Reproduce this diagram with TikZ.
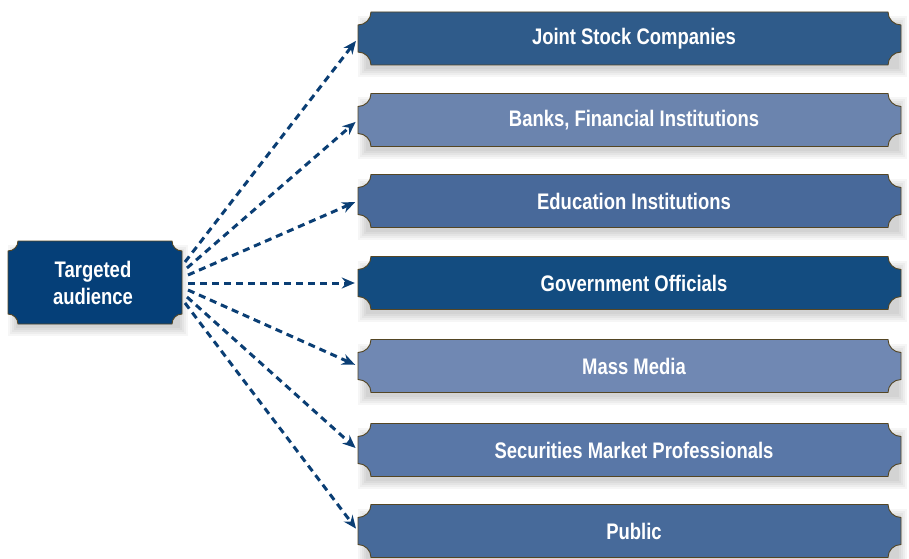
\documentclass[tikz,border=0pt]{standalone}
\usepackage{fontspec}
\setmainfont[FakeStretch=0.82]{Liberation Sans}
\usetikzlibrary{arrows.meta}
\definecolor{edgec}{RGB}{84,70,36}
\definecolor{arrowc}{RGB}{10,62,116}
\definecolor{cA}{RGB}{47,91,138}
\definecolor{cB}{RGB}{107,132,174}
\definecolor{cC}{RGB}{72,105,154}
\definecolor{cD}{RGB}{19,76,128}
\definecolor{cE}{RGB}{112,136,179}
\definecolor{cF}{RGB}{89,119,167}
\definecolor{cG}{RGB}{71,106,154}
\definecolor{cL}{RGB}{5,63,120}
\tikzset{
  lbl/.style={inner sep=0pt, text=white, font=\bfseries\fontsize{22.5}{27}\selectfont, align=center},
  conn/.style={draw=arrowc, line width=3pt, dash pattern=on 7pt off 5pt,
    -{Stealth[length=13pt,width=11pt]}, shorten >=3pt},
  shapeedge/.style={draw=edgec, line width=0.9pt},
  shadowfill/.style={fill=black, opacity=0.035}
}
% concave-corner box: x1,y1,x2,y2,r
\newcommand{\tktpath}[5]{(#1+#5,#2) -- (#3-#5,#2)
  arc[start angle=180,end angle=90,radius=#5pt] -- (#3,#4-#5)
  arc[start angle=270,end angle=180,radius=#5pt] -- (#1+#5,#4)
  arc[start angle=0,end angle=-90,radius=#5pt] -- (#1,#2+#5)
  arc[start angle=90,end angle=0,radius=#5pt] -- cycle}
\newcommand{\tktshadow}[4]{%
  \foreach \e in {0,2,4,6,8}{
    \fill[shadowfill] (#1+8-\e,#2-4-\e) rectangle (#3-2+\e,#4-12+\e);
  }}
\newcommand{\ticket}[4]{% name, ycenter, colour, text
  \tktshadow{358}{#2-26.5}{901}{#2+26.5}
  \path[fill=#3, shapeedge] \tktpath{358}{#2-26.5}{901}{#2+26.5}{13};
  \node[lbl, minimum width=552pt, minimum height=53pt] (#1) at (634,#2) {#4};
}
\begin{document}
\begin{tikzpicture}[x=1pt,y=1pt]
\useasboundingbox (0,0) rectangle (909,558);
\fill[white] (0,0) rectangle (909,558);

% left box
\tktshadow{8}{234}{182}{317}
\path[fill=cL, shapeedge] \tktpath{8}{234}{182}{317}{10};
\node[lbl, minimum width=174pt, minimum height=83pt] (src) at (93,275.5) {Targeted\\audience};

\ticket{b1}{519.5}{cA}{Joint Stock Companies}
\ticket{b2}{438}{cB}{Banks, Financial Institutions}
\ticket{b3}{357}{cC}{Education Institutions}
\ticket{b4}{275}{cD}{Government Officials}
\ticket{b5}{192}{cE}{Mass Media}
\ticket{b6}{108}{cF}{Securities Market Professionals}
\ticket{b7}{27}{cG}{Public}

\coordinate (s1) at (185,296);
\coordinate (s2) at (187,290);
\coordinate (s3) at (188,283);
\coordinate (s4) at (188,275);
\coordinate (s5) at (188,268);
\coordinate (s6) at (187,261);
\coordinate (s7) at (185,255);

\draw[conn] (s1) -- (b1.west);
\draw[conn] (s2) -- (b2.west);
\draw[conn] (s3) -- (b3.west);
\draw[conn] (s4) -- (b4.west);
\draw[conn] (s5) -- (b5.west);
\draw[conn] (s6) -- (b6.west);
\draw[conn] (s7) -- (b7.west);
\end{tikzpicture}
\end{document}
